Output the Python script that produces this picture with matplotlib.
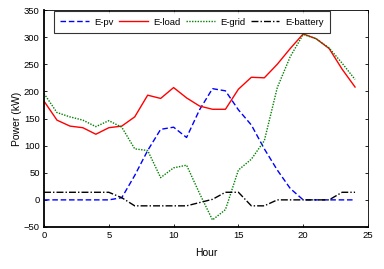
import matplotlib
matplotlib.use("Agg")
import matplotlib.pyplot as plt

plt.rcParams['font.family'] = ['Liberation Sans', 'DejaVu Sans']

hours = list(range(25))
e_pv = [0, 0, 0, 0, 0, 0, 4, 45, 91, 130, 134, 115, 166, 205, 201, 166, 138, 94, 55, 21, 0, 0, 0, 0, 0]
e_load = [182, 147, 136, 133, 121, 133, 136, 153, 193, 187, 207, 188, 173, 167, 167, 204, 226, 225, 250, 279, 306, 297, 279, 241, 208]
e_grid = [196, 161, 153, 147, 135, 146, 134, 94, 91, 41, 59, 64, 12, -37, -18, 55, 75, 109, 207, 264, 305, 297, 280, 252, 222]
e_battery = [14, 14, 14, 14, 14, 14, 4, -11, -11, -11, -11, -11, -5, 1, 14, 14, -11, -11, 0, 0, 0, 0, 0, 14, 14]

fig = plt.figure(figsize=(3.84, 2.69), dpi=100)
ax = fig.add_axes([44/384, 1-227/269, (368-44)/384, (227-10)/269])

ax.plot(hours, e_pv, color='#0000ff', linestyle=(0, (4, 2)), lw=1.0, label='E-pv')
ax.plot(hours, e_load, color='#ff0000', linestyle='-', lw=1.0, label='E-load')
ax.plot(hours, e_grid, color='#008000', linestyle=(0, (1, 1)), lw=1.0, label='E-grid')
ax.plot(hours, e_battery, color='#000000', linestyle=(0, (5, 1.5, 1, 1.5)), lw=1.0, label='E-battery')

ax.set_xlim(0, 25)
ax.set_ylim(-50, 350)
ax.set_xticks([0, 5, 10, 15, 20, 25])
ax.set_yticks(range(-50, 351, 50))
ax.tick_params(direction='in', top=True, right=True, labelsize=6.8, length=2, width=0.6, pad=3)
ax.spines['left'].set_linewidth(1.3)
ax.spines['bottom'].set_linewidth(1.3)
ax.spines['top'].set_linewidth(0.6)
ax.spines['right'].set_linewidth(0.6)
ax.set_xlabel('Hour', fontsize=7.5, labelpad=6)
ax.set_ylabel('Power (kW)', fontsize=7.5, labelpad=1)

leg = ax.legend(ncol=4, loc='upper left', bbox_to_anchor=(0.027, 1.0), fontsize=6.8,
                frameon=True, fancybox=False, edgecolor='black', handlelength=3.0,
                columnspacing=0.6, handletextpad=0.6, borderpad=0.7, borderaxespad=0.1)
leg.get_frame().set_linewidth(0.8)

fig.savefig('out.png', dpi=100)
